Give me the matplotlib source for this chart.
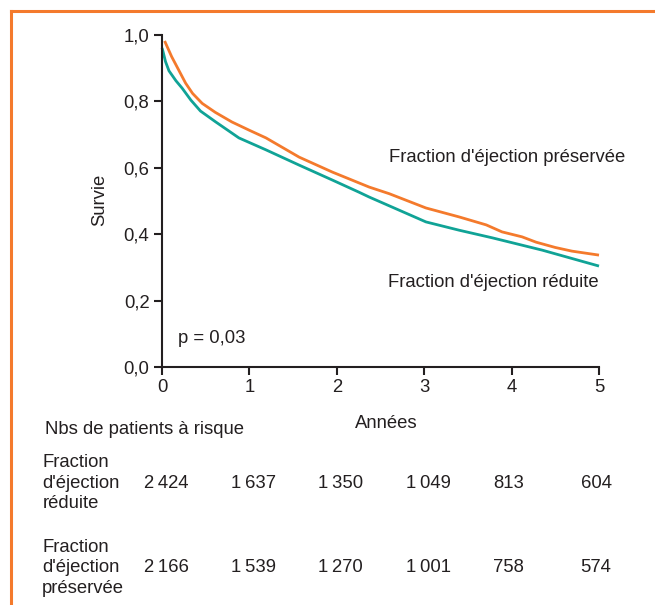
import numpy as np
import matplotlib.pyplot as plt
from matplotlib.lines import Line2D

plt.rcParams['font.family'] = ['Liberation Sans', 'DejaVu Sans']

# courbes de survie
t_pres = [0.03, 0.11, 0.19, 0.27, 0.35, 0.46, 0.61, 0.8, 1.0, 1.19, 1.57, 1.95, 2.37, 2.6,
          3.02, 3.4, 3.71, 3.89, 4.12, 4.28, 4.5, 4.69, 5.0]
s_pres = [0.982, 0.935, 0.895, 0.855, 0.824, 0.794, 0.767, 0.738, 0.713, 0.69, 0.632, 0.587,
          0.542, 0.522, 0.479, 0.452, 0.428, 0.407, 0.392, 0.376, 0.36, 0.349, 0.337]

t_red = [0.0, 0.01, 0.04, 0.08, 0.16, 0.23, 0.33, 0.44, 0.61, 0.88, 1.19, 1.57, 1.95, 2.25,
         2.37, 3.02, 3.4, 3.78, 4.35, 5.0]
s_red = [0.961, 0.952, 0.92, 0.892, 0.862, 0.84, 0.804, 0.771, 0.739, 0.69, 0.654, 0.608,
         0.563, 0.527, 0.512, 0.437, 0.412, 0.389, 0.352, 0.304]

# patients à risque
annees = [0, 1, 2, 3, 4, 5]
risque_red = ['2 424', '1 637', '1 350', '1 049', '813', '604']
risque_pres = ['2 166', '1 539', '1 270', '1 001', '758', '574']
yticks = [0.0, 0.2, 0.4, 0.6, 0.8, 1.0]
ytick_labels = ['0,0', '0,2', '0,4', '0,6', '0,8', '1,0']

orange = '#F47A2C'
teal = '#10A396'
txt = '#231F20'
fs = 13.3

fig = plt.figure(figsize=(6.55, 6.05), dpi=100)
ax = fig.add_axes([162 / 655, 1 - 367 / 605, 437 / 655, 332 / 605])

ax.plot(t_pres, s_pres, color=orange, lw=2.0, clip_on=False, solid_capstyle='butt')
ax.plot(t_red, s_red, color=teal, lw=2.0, clip_on=False, solid_capstyle='butt')

ax.set_xlim(0, 5)
ax.set_ylim(0, 1.0)
ax.set_xticks(annees)
ax.set_xticklabels([str(a) for a in annees])
ax.set_yticks(yticks)
ax.set_yticklabels(ytick_labels)
for s in ['top', 'right']:
    ax.spines[s].set_visible(False)
for s in ['left', 'bottom']:
    ax.spines[s].set_linewidth(1.5)
    ax.spines[s].set_color(txt)
ax.tick_params(direction='out', length=6, width=1.5, color=txt,
               labelsize=fs, labelcolor=txt, pad=3)

ax.text(-(162 - 100) / 437, (367 - 200) / 332, 'Survie', rotation=90,
        transform=ax.transAxes, ha='center', va='center', fontsize=fs, color=txt)
ax.text(2.57, -(423 - 367) / 332, 'Années', transform=ax.get_xaxis_transform(),
        ha='center', va='center', fontsize=fs, color=txt)

ax.text(2.6, 0.632, "Fraction d'éjection préservée", ha='left', va='center',
        fontsize=fs, color=txt)
ax.text(5.0, 0.256, "Fraction d'éjection réduite", ha='right', va='center',
        fontsize=fs, color=txt)
ax.text(0.18, 0.087, 'p = 0,03', ha='left', va='center', fontsize=fs, color=txt)

# tableau des patients à risque
tr = ax.get_xaxis_transform()
ax.text(-1.34, -(430 - 367) / 332, 'Nbs de patients à risque', transform=tr,
        ha='left', va='center', fontsize=fs, color=txt)
rows = [("Fraction\nd'éjection\nréduite", risque_red, 483),
        ("Fraction\nd'éjection\npréservée", risque_pres, 568)]
for label, vals, ypx in rows:
    yy = -(ypx - 367) / 332
    ax.text(-1.37, yy, label, transform=tr, ha='left', va='center',
            fontsize=fs, color=txt, linespacing=1.27)
    for a, v in zip(annees, vals):
        ax.text(a - 0.21, yy, v.replace(' ', '\u2009'), transform=tr, ha='left',
                va='center', fontsize=fs, color=txt)

# cadre orange
bx = 10.5 / 655
by = 1 - 11 / 605
fig.add_artist(Line2D([bx, 1], [by, by], color=orange, lw=2.2, transform=fig.transFigure))
fig.add_artist(Line2D([bx, bx], [0, by], color=orange, lw=2.2, transform=fig.transFigure))

fig.savefig('out.png', dpi=100)
